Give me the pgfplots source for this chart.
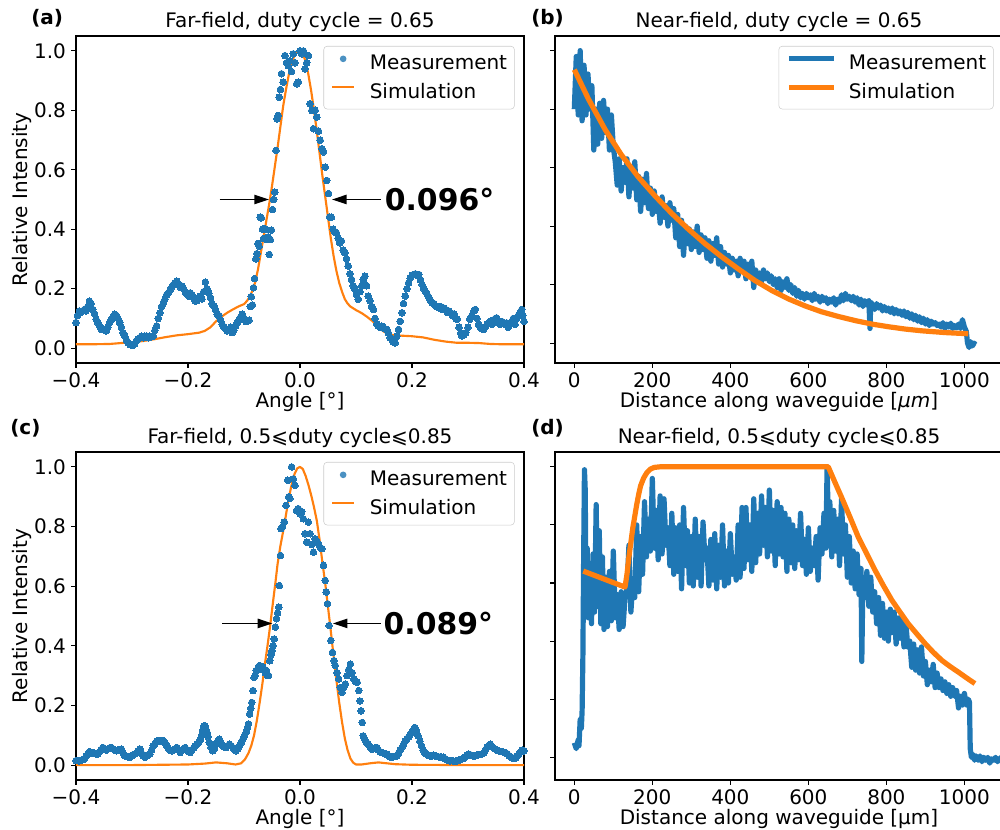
\documentclass[border=0pt]{standalone}
\usepackage{fontspec}
\setmainfont{DejaVu Sans}
\usepackage{pgfplots}
\pgfplotsset{compat=1.18}
\usetikzlibrary{arrows.meta}
\definecolor{mblue}{HTML}{1F77B4}
\definecolor{morange}{HTML}{FF7F0E}
\newcommand{\fs}{\fontsize{15}{18}\selectfont}
\pgfplotsset{
  mpl/.style={
    scale only axis, width=336pt, anchor=south west,
    axis line style={black, line width=0.8pt},
    every tick/.style={black, line width=0.8pt},
    tick align=outside, major tick length=3.7pt,
    xtick pos=lower, ytick pos=left,
    tick label style={font=\fs, inner sep=0pt},
    xticklabel shift=3.65pt, yticklabel shift=3.65pt,
    label style={font=\fs},
    every axis title/.style={font=\fs, at={(axis description cs:0.5,1)}, anchor=base, yshift=6.2pt, inner sep=0pt},
    every axis x label/.style={at={(axis description cs:0.5,-0.1346)}, anchor=base, inner sep=0pt, font=\fs},
    every axis y label/.style={at={(axis description cs:-0.1205,0.5)}, rotate=90, anchor=center, inner sep=0pt, font=\fs},
    legend cell align=left,
    legend style={at={(axis description cs:1,1)}, anchor=north east, xshift=-7pt, yshift=-7.5pt,
      draw=black!20, rounded corners=2.5pt, fill=white, fill opacity=0.8, text opacity=1,
      font=\fs, inner xsep=5.5pt, inner ysep=6.5pt, row sep=8.75pt, nodes={inner sep=0pt}},
  },
  far/.style={mpl, xmin=-0.4, xmax=0.4, ymin=-0.05, ymax=1.05,
    xtick={-0.4,-0.2,0,0.2,0.4}, xticklabels={−0.4,−0.2,0.0,0.2,0.4},
    ytick={0,0.2,0.4,0.6,0.8,1.0}, yticklabels={0.0,0.2,0.4,0.6,0.8,1.0},
    xlabel={Angle [°]}, ylabel={Relative Intensity}},
  near/.style={mpl, xmin=-49.5, xmax=1099,
    xtick={0,200,400,600,800,1000}, xticklabels={0,200,400,600,800,1000},
    ytick={0,0.2,0.4,0.6,0.8,1.0}, yticklabels={}},
  dotleg/.style={legend image code/.code={\fill[mblue, draw=none] (8.25pt,0.6ex) circle (2.5pt); \path[draw=none, fill=none] (0,0.6ex) -- (28.2pt,0.6ex);}},
  lineleg/.style={legend image code/.code={\draw[morange, line width=1.6pt] (0pt,0.6ex) -- (16.5pt,0.6ex); \path[draw=none, fill=none] (0,0.6ex) -- (28.2pt,0.6ex);}},
  thickleg/.style={legend image code/.code={\draw[#1, line width=3.9pt] (0pt,0.6ex) -- (33.75pt,0.6ex); \path[draw=none, fill=none] (0,0.6ex) -- (45pt,0.6ex);}},
}
\begin{document}
\begin{tikzpicture}
\useasboundingbox (0,0) rectangle (750pt,622.5pt);

% (a)
\begin{axis}[far, at={(57pt,350.25pt)}, height=245.25pt, title={Far-field, duty cycle = 0.65}]
\addplot[only marks, mark=*, mark size=2.5pt, mark options={fill=mblue, draw=mblue, line width=0pt}, dotleg] coordinates {
(-0.400,0.086)(-0.397,0.11)(-0.394,0.125)(-0.391,0.12)(-0.388,0.125)(-0.385,0.13)(-0.382,0.125)(-0.379,0.14)(-0.376,0.158)(-0.373,0.15)
(-0.370,0.13)(-0.367,0.115)(-0.364,0.097)(-0.361,0.085)(-0.358,0.075)(-0.355,0.063)(-0.352,0.065)(-0.349,0.06)(-0.346,0.058)(-0.343,0.07)
(-0.340,0.086)(-0.337,0.095)(-0.334,0.105)(-0.331,0.114)(-0.328,0.11)(-0.325,0.10)(-0.322,0.086)(-0.319,0.07)(-0.316,0.052)(-0.313,0.04)
(-0.310,0.028)(-0.307,0.018)(-0.304,0.012)(-0.301,0.01)(-0.298,0.01)(-0.295,0.015)(-0.292,0.025)(-0.289,0.03)(-0.286,0.035)(-0.283,0.04)
(-0.280,0.035)(-0.277,0.04)(-0.274,0.041)(-0.271,0.035)(-0.268,0.04)(-0.265,0.038)(-0.262,0.041)(-0.259,0.06)(-0.256,0.075)(-0.253,0.10)
(-0.250,0.119)(-0.247,0.14)(-0.244,0.153)(-0.241,0.165)(-0.238,0.18)(-0.235,0.186)(-0.232,0.195)(-0.229,0.205)(-0.226,0.214)(-0.223,0.22)
(-0.220,0.225)(-0.217,0.215)(-0.214,0.205)(-0.211,0.209)(-0.208,0.20)(-0.205,0.19)(-0.202,0.181)(-0.199,0.175)(-0.196,0.186)(-0.193,0.18)
(-0.190,0.17)(-0.187,0.158)(-0.184,0.16)(-0.181,0.17)(-0.178,0.175)(-0.175,0.165)(-0.172,0.19)(-0.169,0.222)(-0.166,0.20)(-0.163,0.185)
(-0.160,0.17)(-0.157,0.15)(-0.154,0.142)(-0.151,0.13)(-0.148,0.114)(-0.145,0.11)(-0.142,0.095)(-0.139,0.08)(-0.136,0.07)(-0.133,0.065)
(-0.130,0.058)(-0.127,0.06)(-0.124,0.07)(-0.121,0.052)(-0.118,0.06)(-0.115,0.075)(-0.112,0.086)(-0.109,0.095)(-0.106,0.105)(-0.103,0.114)
(-0.100,0.10)(-0.097,0.09)(-0.094,0.091)(-0.091,0.094)(-0.089,0.14)(-0.087,0.173)(-0.085,0.145)(-0.083,0.203)(-0.081,0.234)(-0.079,0.30)
(-0.077,0.318)(-0.075,0.352)(-0.073,0.343)(-0.071,0.441)(-0.069,0.438)(-0.067,0.40)(-0.065,0.369)(-0.063,0.402)(-0.061,0.399)(-0.059,0.365)
(-0.057,0.374)(-0.055,0.315)(-0.053,0.365)(-0.051,0.397)(-0.049,0.466)(-0.047,0.50)(-0.045,0.525)(-0.043,0.665)(-0.041,0.771)(-0.039,0.783)
(-0.037,0.844)(-0.035,0.87)(-0.033,0.923)(-0.030,0.895)(-0.027,0.984)(-0.024,0.96)(-0.021,0.950)(-0.018,0.967)(-0.015,0.93)(-0.012,0.990)
(-0.009,0.96)(-0.006,0.889)(-0.003,0.895)(0.000,1.0)(0.003,0.99)(0.006,1.0)(0.009,0.939)(0.012,0.96)(0.015,0.984)(0.018,0.822)
(0.021,0.799)(0.024,0.738)(0.027,0.80)(0.030,0.777)(0.033,0.73)(0.036,0.699)(0.039,0.671)(0.042,0.66)(0.045,0.609)(0.048,0.564)
(0.051,0.52)(0.053,0.441)(0.056,0.44)(0.059,0.40)(0.062,0.39)(0.065,0.388)(0.068,0.37)(0.071,0.354)(0.074,0.36)(0.077,0.33)
(0.080,0.32)(0.083,0.30)(0.086,0.276)(0.089,0.25)(0.092,0.231)(0.095,0.21)(0.098,0.198)(0.101,0.18)(0.104,0.164)(0.107,0.19)
(0.110,0.209)(0.113,0.23)(0.116,0.242)(0.119,0.21)(0.122,0.175)(0.125,0.16)(0.128,0.14)(0.131,0.13)(0.134,0.10)(0.137,0.08)
(0.140,0.075)(0.143,0.07)(0.146,0.074)(0.149,0.07)(0.152,0.065)(0.155,0.063)(0.158,0.05)(0.161,0.035)(0.164,0.028)(0.167,0.02)
(0.170,0.018)(0.173,0.04)(0.176,0.063)(0.179,0.09)(0.182,0.119)(0.185,0.15)(0.188,0.175)(0.191,0.20)(0.194,0.22)(0.197,0.235)
(0.200,0.245)(0.203,0.248)(0.206,0.25)(0.209,0.245)(0.212,0.248)(0.215,0.23)(0.218,0.214)(0.221,0.20)(0.224,0.19)(0.227,0.181)
(0.230,0.17)(0.233,0.16)(0.236,0.153)(0.239,0.15)(0.242,0.142)(0.245,0.14)(0.248,0.135)(0.251,0.14)(0.254,0.13)(0.257,0.135)
(0.260,0.13)(0.263,0.12)(0.266,0.125)(0.269,0.119)(0.272,0.11)(0.275,0.115)(0.278,0.10)(0.281,0.097)(0.284,0.07)(0.287,0.05)
(0.289,0.041)(0.293,0.045)(0.296,0.052)(0.300,0.07)(0.303,0.097)(0.307,0.11)(0.311,0.125)(0.313,0.13)(0.316,0.10)(0.319,0.08)
(0.322,0.07)(0.325,0.065)(0.328,0.063)(0.331,0.07)(0.334,0.08)(0.337,0.085)(0.340,0.091)(0.343,0.08)(0.346,0.095)(0.349,0.10)
(0.351,0.102)(0.354,0.09)(0.357,0.08)(0.360,0.09)(0.363,0.086)(0.366,0.08)(0.369,0.085)(0.372,0.07)(0.375,0.08)(0.378,0.09)
(0.381,0.10)(0.384,0.08)(0.387,0.10)(0.390,0.11)(0.393,0.12)(0.396,0.13)(0.398,0.11)(0.400,0.09)
};
\addlegendentry{Measurement}
\addplot[morange, line width=1.6pt, line join=round, lineleg] coordinates {
(-0.40,0.013)(-0.37,0.013)(-0.34,0.014)(-0.32,0.017)(-0.30,0.02)(-0.28,0.024)(-0.26,0.03)(-0.24,0.037)(-0.22,0.043)(-0.20,0.047)
(-0.18,0.052)(-0.17,0.058)(-0.16,0.07)(-0.15,0.09)(-0.14,0.106)(-0.13,0.119)(-0.12,0.13)(-0.11,0.14)(-0.10,0.148)(-0.095,0.158)
(-0.09,0.172)(-0.085,0.193)(-0.08,0.222)(-0.075,0.265)(-0.07,0.32)(-0.065,0.375)(-0.06,0.43)(-0.055,0.485)(-0.05,0.545)(-0.045,0.61)
(-0.04,0.675)(-0.035,0.745)(-0.03,0.815)(-0.025,0.87)(-0.02,0.92)(-0.015,0.958)(-0.01,0.984)(-0.005,0.997)(0,1.0)(0.005,0.99)
(0.01,0.965)(0.015,0.92)(0.02,0.865)(0.025,0.80)(0.03,0.73)(0.035,0.655)(0.04,0.58)(0.045,0.51)(0.05,0.44)(0.055,0.37)
(0.06,0.31)(0.065,0.26)(0.07,0.22)(0.075,0.19)(0.08,0.165)(0.085,0.15)(0.09,0.14)(0.10,0.128)(0.11,0.118)(0.12,0.105)
(0.13,0.09)(0.14,0.07)(0.15,0.055)(0.16,0.046)(0.17,0.043)(0.18,0.042)(0.20,0.04)(0.22,0.036)(0.24,0.028)(0.26,0.022)
(0.28,0.018)(0.30,0.018)(0.32,0.017)(0.34,0.014)(0.36,0.013)(0.38,0.013)(0.40,0.013)
};
\addlegendentry{Simulation}
\draw[line width=1.1pt, -{Triangle[length=11pt,width=7pt]}] (axis cs:-0.1434,0.5) -- (axis cs:-0.0554,0.5);
\draw[line width=1.1pt, -{Triangle[length=11pt,width=7pt]}] (axis cs:0.1446,0.5) -- (axis cs:0.0571,0.5);
\node[anchor=base west, inner sep=0pt, yshift=-8.2pt, font=\fontsize{22.4}{26}\selectfont\bfseries] at (axis cs:0.151,0.5) {0.096°};
\end{axis}

% (b)
\begin{axis}[near, at={(416.25pt,350.25pt)}, height=245.25pt, ymin=-0.068, ymax=1.05,
  title={Near-field, duty cycle = 0.65}, xlabel={Distance along waveguide [{\itshape μm}]}]
\addplot[mblue, line width=3.9pt, line join=round, thickleg=mblue] coordinates {
(0,0.80)(5,0.98)(10,0.78)(15,1.0)(20,0.76)(25,0.95)(30,0.78)(35,0.92)(40,0.80)(45,0.88)
(50,0.66)(55,0.80)(60,0.68)(65,0.82)(70,0.70)(75,0.83)(80,0.72)(85,0.80)(90,0.66)(95,0.78)
(100,0.67)(105,0.62)(110,0.54)(115,0.63)(120,0.52)(125,0.60)(130,0.55)(135,0.63)(140,0.50)(145,0.60)
(150,0.53)(155,0.62)(160,0.49)(165,0.57)(170,0.45)(175,0.56)(180,0.48)(185,0.58)(190,0.46)(195,0.53)
(200,0.44)(205,0.52)(210,0.45)(215,0.49)(220,0.41)(225,0.50)(230,0.43)(235,0.47)(240,0.40)(245,0.48)
(250,0.42)(255,0.46)(260,0.36)(265,0.44)(270,0.33)(275,0.42)(280,0.30)(285,0.40)(290,0.34)(295,0.39)
(300,0.32)(305,0.38)(310,0.33)(315,0.40)(320,0.31)(325,0.37)(330,0.32)(335,0.36)(340,0.29)(345,0.35)
(350,0.28)(355,0.34)(360,0.30)(365,0.36)(370,0.27)(375,0.33)(380,0.26)(385,0.31)(390,0.27)(395,0.30)
(400,0.24)(405,0.29)(410,0.25)(415,0.28)(420,0.23)(425,0.29)(430,0.25)(435,0.28)(440,0.22)(445,0.27)
(450,0.24)(455,0.28)(460,0.19)(465,0.25)(470,0.22)(475,0.24)(480,0.21)(485,0.25)(490,0.22)(495,0.24)
(500,0.21)(505,0.23)(510,0.20)(515,0.22)(520,0.19)(525,0.22)(530,0.18)(535,0.21)(540,0.19)(545,0.22)
(550,0.18)(555,0.20)(560,0.17)(565,0.19)(570,0.16)(575,0.18)(580,0.155)(585,0.17)(590,0.15)(595,0.17)
(600,0.155)(605,0.165)(610,0.145)(615,0.17)(620,0.15)(625,0.16)(630,0.14)(635,0.16)(640,0.145)(645,0.155)
(650,0.135)(655,0.15)(660,0.14)(665,0.155)(670,0.13)(675,0.15)(680,0.14)(685,0.165)(690,0.145)(695,0.17)
(700,0.15)(705,0.16)(710,0.145)(715,0.16)(720,0.14)(725,0.155)(730,0.13)(735,0.15)(740,0.125)(745,0.145)
(750,0.13)(755,0.145)(758,0.05)(760,0.14)(765,0.13)(770,0.115)(775,0.135)(780,0.12)(785,0.13)(790,0.11)
(795,0.125)(800,0.11)(805,0.12)(810,0.105)(815,0.12)(820,0.10)(825,0.115)(830,0.10)(835,0.11)(840,0.095)
(845,0.11)(850,0.09)(855,0.105)(860,0.085)(865,0.10)(870,0.08)(875,0.095)(880,0.075)(885,0.09)(890,0.07)
(895,0.085)(900,0.065)(905,0.08)(910,0.06)(915,0.075)(920,0.065)(925,0.07)(930,0.06)(935,0.065)(940,0.055)
(945,0.07)(950,0.05)(955,0.065)(960,0.055)(965,0.068)(970,0.05)(975,0.06)(980,0.052)(985,0.065)(990,0.05)
(995,0.08)(1000,0.055)(1005,0.04)(1008,0.0)(1012,-0.015)(1016,0.005)(1020,-0.01)(1025,0.0)(1028,-0.005)
};
\addlegendentry{Measurement}
\addplot[morange, line width=3.9pt, line join=round, thickleg=morange] coordinates {
(0,0.935)(36,0.835)(79,0.73)(121,0.643)(164,0.568)(207,0.503)(250,0.443)(292,0.39)(335,0.34)(378,0.295)
(421,0.253)(463,0.214)(506,0.18)(549,0.151)(592,0.127)(634,0.107)(677,0.091)(720,0.077)(763,0.065)(805,0.056)
(848,0.048)(891,0.042)(950,0.036)(1010,0.032)
};
\addlegendentry{Simulation}
\end{axis}

% (c)
\begin{axis}[far, at={(57pt,37.5pt)}, height=246pt, title={Far-field, 0.5⩽duty cycle⩽0.85}]
\addplot[only marks, mark=*, mark size=2.5pt, mark options={fill=mblue, draw=mblue, line width=0pt}, dotleg] coordinates {
(-0.400,0.015)(-0.397,0.015)(-0.394,0.014)(-0.391,0.016)(-0.388,0.018)(-0.385,0.02)(-0.382,0.03)(-0.379,0.037)(-0.376,0.045)(-0.373,0.04)
(-0.370,0.042)(-0.367,0.04)(-0.364,0.038)(-0.361,0.037)(-0.358,0.045)(-0.355,0.052)(-0.352,0.059)(-0.349,0.055)(-0.346,0.05)(-0.343,0.054)
(-0.340,0.058)(-0.337,0.059)(-0.334,0.055)(-0.331,0.05)(-0.328,0.048)(-0.325,0.05)(-0.322,0.052)(-0.319,0.054)(-0.316,0.04)(-0.313,0.031)
(-0.310,0.03)(-0.307,0.028)(-0.304,0.026)(-0.301,0.03)(-0.298,0.035)(-0.295,0.037)(-0.292,0.04)(-0.289,0.048)(-0.286,0.054)(-0.283,0.04)
(-0.280,0.03)(-0.277,0.026)(-0.274,0.03)(-0.271,0.035)(-0.268,0.037)(-0.265,0.05)(-0.262,0.065)(-0.259,0.072)(-0.256,0.08)(-0.253,0.082)
(-0.250,0.08)(-0.247,0.082)(-0.244,0.082)(-0.241,0.075)(-0.238,0.065)(-0.235,0.055)(-0.232,0.05)(-0.229,0.048)(-0.226,0.052)(-0.223,0.055)
(-0.220,0.059)(-0.217,0.05)(-0.214,0.042)(-0.211,0.05)(-0.208,0.055)(-0.205,0.059)(-0.202,0.05)(-0.199,0.045)(-0.196,0.042)(-0.193,0.05)
(-0.190,0.058)(-0.187,0.065)(-0.184,0.07)(-0.181,0.076)(-0.178,0.085)(-0.176,0.098)(-0.174,0.115)(-0.172,0.13)(-0.170,0.132)(-0.168,0.12)
(-0.166,0.11)(-0.164,0.095)(-0.162,0.076)(-0.159,0.06)(-0.156,0.048)(-0.153,0.055)(-0.150,0.07)(-0.147,0.08)(-0.144,0.087)(-0.141,0.075)
(-0.138,0.065)(-0.135,0.06)(-0.132,0.059)(-0.129,0.065)(-0.126,0.07)(-0.123,0.065)(-0.120,0.059)(-0.117,0.052)(-0.114,0.048)(-0.111,0.055)
(-0.108,0.065)(-0.105,0.075)(-0.102,0.087)(-0.099,0.10)(-0.096,0.11)(-0.094,0.125)(-0.092,0.138)(-0.090,0.171)(-0.088,0.19)(-0.086,0.21)
(-0.084,0.25)(-0.082,0.294)(-0.080,0.30)(-0.078,0.317)(-0.076,0.32)(-0.074,0.33)(-0.072,0.334)(-0.070,0.33)(-0.068,0.32)(-0.066,0.328)
(-0.064,0.32)(-0.062,0.31)(-0.060,0.317)(-0.058,0.30)(-0.056,0.30)(-0.054,0.35)(-0.052,0.37)(-0.050,0.384)(-0.048,0.40)(-0.046,0.423)
(-0.044,0.463)(-0.042,0.491)(-0.040,0.51)(-0.038,0.530)(-0.037,0.602)(-0.035,0.703)(-0.034,0.793)(-0.031,0.80)(-0.028,0.815)(-0.025,0.871)
(-0.022,0.955)(-0.020,0.90)(-0.018,0.894)(-0.015,1.0)(-0.012,0.96)(-0.009,0.938)(-0.006,0.854)(-0.003,0.86)(0.000,0.843)(0.003,0.85)
(0.006,0.826)(0.009,0.776)(0.012,0.748)(0.015,0.815)(0.018,0.776)(0.021,0.74)(0.024,0.714)(0.027,0.759)(0.030,0.75)(0.033,0.742)
(0.036,0.73)(0.039,0.726)(0.042,0.67)(0.045,0.619)(0.047,0.58)(0.049,0.541)(0.052,0.468)(0.055,0.418)(0.058,0.378)(0.061,0.35)
(0.063,0.334)(0.066,0.31)(0.069,0.289)(0.072,0.26)(0.075,0.244)(0.078,0.26)(0.081,0.272)(0.084,0.30)(0.087,0.32)(0.090,0.339)
(0.093,0.31)(0.096,0.289)(0.099,0.28)(0.102,0.278)(0.105,0.25)(0.107,0.215)(0.109,0.182)(0.111,0.143)(0.113,0.098)(0.116,0.085)
(0.119,0.076)(0.122,0.07)(0.125,0.06)(0.128,0.054)(0.131,0.055)(0.134,0.058)(0.137,0.059)(0.140,0.05)(0.143,0.045)(0.146,0.042)
(0.149,0.04)(0.152,0.038)(0.155,0.037)(0.158,0.032)(0.161,0.028)(0.164,0.026)(0.167,0.028)(0.170,0.03)(0.173,0.031)(0.176,0.04)
(0.179,0.05)(0.182,0.059)(0.185,0.07)(0.188,0.08)(0.191,0.087)(0.194,0.095)(0.197,0.103)(0.200,0.11)(0.203,0.12)(0.205,0.126)
(0.208,0.115)(0.211,0.098)(0.214,0.08)(0.217,0.065)(0.220,0.05)(0.223,0.04)(0.226,0.037)(0.229,0.033)(0.232,0.031)(0.235,0.031)
(0.238,0.033)(0.241,0.031)(0.244,0.03)(0.247,0.028)(0.250,0.027)(0.253,0.026)(0.256,0.026)(0.259,0.022)(0.262,0.018)(0.265,0.015)
(0.268,0.014)(0.271,0.015)(0.274,0.014)(0.277,0.013)(0.280,0.014)(0.283,0.016)(0.286,0.018)(0.289,0.02)(0.292,0.022)(0.295,0.028)
(0.298,0.033)(0.301,0.037)(0.304,0.035)(0.307,0.032)(0.310,0.03)(0.313,0.031)(0.316,0.033)(0.319,0.035)(0.322,0.036)(0.325,0.037)
(0.328,0.04)(0.331,0.05)(0.334,0.06)(0.337,0.066)(0.340,0.07)(0.343,0.062)(0.346,0.056)(0.349,0.054)(0.352,0.05)(0.355,0.048)
(0.358,0.046)(0.361,0.045)(0.364,0.043)(0.367,0.042)(0.370,0.038)(0.373,0.032)(0.376,0.028)(0.379,0.025)(0.382,0.022)(0.385,0.024)
(0.388,0.03)(0.391,0.038)(0.394,0.045)(0.397,0.05)(0.400,0.048)
};
\addlegendentry{Measurement}
\addplot[morange, line width=1.6pt, line join=round, lineleg] coordinates {
(-0.40,0.0)(-0.30,0.0)(-0.20,0.002)(-0.17,0.005)(-0.15,0.009)(-0.13,0.006)(-0.115,0.002)(-0.105,0.006)(-0.098,0.02)(-0.092,0.04)
(-0.087,0.065)(-0.082,0.10)(-0.077,0.15)(-0.072,0.21)(-0.067,0.275)(-0.063,0.335)(-0.058,0.40)(-0.054,0.457)(-0.048,0.55)(-0.044,0.61)
(-0.04,0.675)(-0.035,0.735)(-0.03,0.785)(-0.025,0.84)(-0.02,0.895)(-0.015,0.94)(-0.01,0.975)(-0.005,0.995)(0,1.0)(0.005,0.993)
(0.01,0.97)(0.015,0.94)(0.02,0.905)(0.025,0.865)(0.03,0.82)(0.035,0.755)(0.04,0.68)(0.045,0.61)(0.05,0.53)(0.055,0.45)
(0.06,0.365)(0.065,0.285)(0.07,0.21)(0.075,0.145)(0.08,0.09)(0.085,0.05)(0.09,0.022)(0.095,0.008)(0.1,0.002)(0.11,0.002)
(0.125,0.006)(0.14,0.009)(0.155,0.006)(0.17,0.003)(0.2,0.001)(0.3,0.0)(0.4,0.0)
};
\addlegendentry{Simulation}
\draw[line width=1.1pt, -{Triangle[length=11pt,width=7pt]}] (axis cs:-0.1386,0.475) -- (axis cs:-0.0493,0.475);
\draw[line width=1.1pt, -{Triangle[length=11pt,width=7pt]}] (axis cs:0.1446,0.475) -- (axis cs:0.0586,0.475);
\node[anchor=base west, inner sep=0pt, yshift=-8.2pt, font=\fontsize{22.4}{26}\selectfont\bfseries] at (axis cs:0.149,0.475) {0.089°};
\end{axis}

% (d)
\begin{axis}[near, at={(416.25pt,37.5pt)}, height=246pt, ymin=-0.078, ymax=1.051,
  title={Near-field, 0.5⩽duty cycle⩽0.85}, xlabel={Distance along waveguide [μm]}]
\addplot[mblue, line width=3.9pt, line join=round] coordinates {
(0,0.05)(5,0.03)(10,0.06)(12,0.04)(15,0.13)(18,0.10)(20,0.16)(22,0.35)(24,0.70)(26,0.99)
(28,0.92)(30,0.55)(33,0.72)(36,0.48)(40,0.66)(44,0.46)(48,0.70)(52,0.50)(56,0.87)(60,0.52)
(64,0.78)(68,0.46)(72,0.69)(76,0.44)(80,0.62)(85,0.45)(90,0.64)(95,0.47)(100,0.71)(105,0.48)
(110,0.56)(115,0.44)(120,0.57)(125,0.45)(130,0.55)(135,0.58)(140,0.73)(145,0.50)(150,0.60)(155,0.55)
(160,0.80)(165,0.57)(170,0.76)(175,0.63)(180,0.88)(185,0.69)(190,0.82)(195,0.71)(200,0.96)(205,0.72)
(210,0.85)(215,0.68)(220,0.90)(225,0.70)(230,0.89)(235,0.73)(240,0.79)(245,0.66)(250,0.84)(255,0.63)
(260,0.79)(265,0.64)(270,0.80)(275,0.58)(280,0.86)(285,0.66)(290,0.78)(295,0.60)(300,0.76)(305,0.59)
(310,0.82)(315,0.62)(320,0.76)(325,0.59)(330,0.81)(335,0.68)(340,0.72)(345,0.59)(350,0.75)(355,0.61)
(360,0.77)(365,0.58)(370,0.73)(375,0.62)(380,0.80)(385,0.59)(390,0.71)(395,0.60)(400,0.77)(405,0.63)
(410,0.69)(415,0.61)(420,0.80)(425,0.62)(430,0.86)(435,0.65)(440,0.86)(445,0.68)(450,0.80)(455,0.64)
(460,0.89)(465,0.67)(470,0.84)(475,0.70)(480,0.90)(485,0.73)(490,0.86)(495,0.69)(500,0.92)(505,0.71)
(510,0.85)(515,0.66)(520,0.88)(525,0.70)(530,0.86)(535,0.69)(540,0.84)(545,0.64)(550,0.82)(555,0.67)
(560,0.80)(565,0.65)(570,0.78)(575,0.68)(580,0.84)(585,0.66)(590,0.75)(595,0.63)(600,0.79)(605,0.64)
(610,0.72)(615,0.66)(620,0.76)(625,0.61)(630,0.79)(635,0.70)(640,0.84)(645,0.72)(648,1.0)(652,0.76)
(655,0.88)(660,0.69)(665,0.85)(670,0.71)(675,0.82)(680,0.66)(685,0.89)(690,0.70)(695,0.80)(700,0.62)
(705,0.76)(710,0.60)(715,0.71)(720,0.58)(725,0.70)(730,0.56)(735,0.65)(737,0.33)(740,0.62)(745,0.55)
(750,0.64)(755,0.52)(760,0.62)(765,0.50)(770,0.57)(775,0.46)(780,0.55)(785,0.42)(790,0.53)(795,0.41)
(800,0.50)(805,0.40)(810,0.51)(815,0.43)(820,0.50)(825,0.39)(830,0.48)(835,0.41)(840,0.49)(845,0.38)
(850,0.46)(855,0.38)(860,0.40)(865,0.31)(870,0.39)(875,0.30)(880,0.37)(885,0.29)(890,0.38)(895,0.28)
(900,0.33)(905,0.25)(910,0.30)(915,0.26)(920,0.32)(925,0.24)(930,0.29)(935,0.24)(940,0.27)(945,0.23)
(950,0.26)(955,0.22)(960,0.25)(965,0.21)(970,0.24)(975,0.21)(980,0.23)(985,0.17)(990,0.21)(995,0.18)
(1000,0.22)(1005,0.18)(1010,0.20)(1013,0.19)(1015,0.03)(1018,0.0)(1022,0.01)(1026,-0.01)(1030,0.005)(1035,-0.01)
(1040,0.005)(1045,-0.015)(1050,0.0)(1055,-0.01)(1060,0.0)(1065,-0.02)(1070,-0.005)(1075,-0.01)(1080,0.0)(1085,-0.015)
(1090,-0.005)(1095,0.0)
};
\addplot[morange, line width=3.9pt, line join=round] coordinates {
(23,0.641)(130,0.586)(135,0.63)(140,0.69)(145,0.74)(150,0.79)(155,0.83)(160,0.87)(165,0.905)(170,0.935)
(178,0.962)(186,0.98)(195,0.992)(205,0.998)(220,1.0)(651,1.0)(668,0.947)(685.5,0.894)(707,0.826)(728,0.758)
(750,0.70)(771,0.644)(792,0.592)(814,0.541)(835,0.50)(856,0.46)(878,0.425)(899,0.392)(920,0.362)(942,0.334)
(963,0.313)(985,0.293)(1006,0.273)(1027,0.254)
};
\end{axis}

\node[anchor=base west, inner sep=0pt, font=\fs\bfseries] at (23.25pt,603.75pt) {(a)};
\node[anchor=base west, inner sep=0pt, font=\fs\bfseries] at (398.25pt,603.75pt) {(b)};
\node[anchor=base west, inner sep=0pt, font=\fs\bfseries] at (7.5pt,296.25pt) {(c)};
\node[anchor=base west, inner sep=0pt, font=\fs\bfseries] at (398.25pt,296.25pt) {(d)};
\end{tikzpicture}
\end{document}
